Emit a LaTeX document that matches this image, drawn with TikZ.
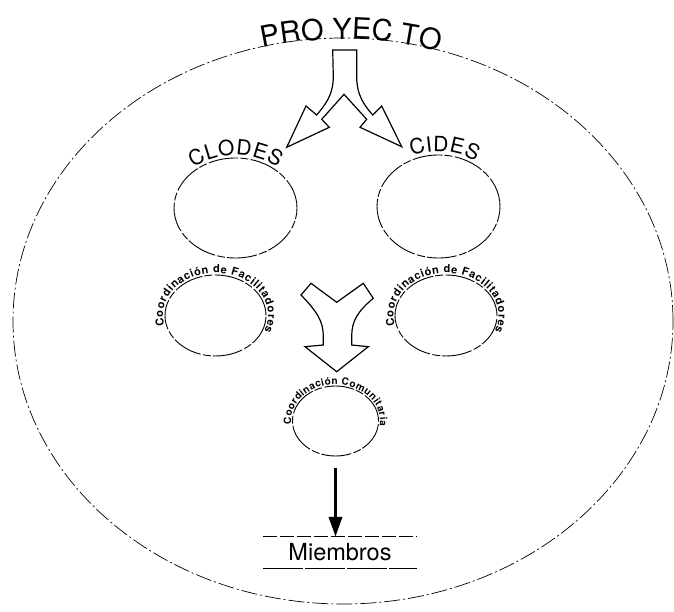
\documentclass[tikz,border=0pt]{standalone}
\usepackage{fontspec}
\setmainfont{TeX Gyre Heros}
\setsansfont{TeX Gyre Heros}
\usetikzlibrary{shapes.geometric,decorations.text,arrows.meta}

\begin{document}
\begin{tikzpicture}[x=1pt,y=1pt,
  bigring/.style={ellipse, draw, inner sep=0pt, line width=0.7pt, dash pattern=on 16pt off 3pt on 2pt off 3pt},
  ring/.style={ellipse, draw, inner sep=0pt, line width=0.9pt, dash pattern=on 30pt off 2.5pt on 8pt off 2pt},
  bigarrow/.style={draw, fill=white, line width=1.2pt, line join=miter},
  fittext/.style={decorate, decoration={text along path, text color=black, text align={fit to path}, raise=1.5pt, text={#1}}},
  centertext/.style={decorate, decoration={text along path, text color=black, text align=center, raise=3pt, text={#1}}},
]
\useasboundingbox (0,0) rectangle (674,611);
\fill[white] (0,0) rectangle (674,611);

% outer project ring
\node[bigring, minimum width=660pt, minimum height=566pt] (proy) at (343,290) {};
\path[decorate, decoration={text along path, text color=black, text align=center, raise=-1pt,
  text={|\fontsize{29}{31}\selectfont|PRO YEC TO}}]
  ([shift={(112:330pt and 283pt)}]proy.center) arc[start angle=112, end angle=65.2, x radius=330pt, y radius=283pt];

% circles
\node[ring, minimum width=123pt, minimum height=100pt] (clodes) at (235.5,403) {};
\node[ring, minimum width=123pt, minimum height=103pt] (cides) at (438.5,404.5) {};
\node[ring, minimum width=101pt, minimum height=81pt] (facl) at (215.5,295.5) {};
\node[ring, minimum width=102pt, minimum height=81pt] (facr) at (446,295.5) {};
\node[ring, minimum width=86pt, minimum height=70pt] (com) at (335.5,190) {};

% circle labels
\path[centertext={|\fontsize{21}{23}\selectfont|CLODES}]
  ([shift={(150:62pt and 50pt)}]clodes.center) arc[start angle=150, end angle=30, x radius=62pt, y radius=50pt];
\path[centertext={|\fontsize{21}{23}\selectfont|CIDES}]
  ([shift={(150:62pt and 52pt)}]cides.center) arc[start angle=150, end angle=18, x radius=62pt, y radius=52pt];
\path[fittext={|\bfseries\fontsize{11}{13}\selectfont|Coordinación de Facilitadores}]
  ([shift={(194:51pt and 41pt)}]facl.center) arc[start angle=194, end angle=-22, x radius=51pt, y radius=41pt];
\path[fittext={|\bfseries\fontsize{11}{13}\selectfont|Coordinación de Facilitadores}]
  ([shift={(194:51pt and 41pt)}]facr.center) arc[start angle=194, end angle=-22, x radius=51pt, y radius=41pt];
\path[fittext={|\bfseries\fontsize{10}{12}\selectfont|Coordinación Comunitaria}]
  ([shift={(186:43pt and 35pt)}]com.center) arc[start angle=186, end angle=-8, x radius=43pt, y radius=35pt];

% forking arrow
\draw[bigarrow] (332.7,561) -- (356.7,561) -- (356.7,534.3)
  .. controls (356.7,515) and (365,505) .. (372.7,496)
  -- (381.7,505) -- (401.7,464.3) -- (360,483.7) -- (366.7,491.7)
  -- (344,516.7)
  -- (321.7,491.7) -- (329.3,483.7) -- (286.7,463.7) -- (306,505) -- (316.7,496)
  .. controls (324,505) and (333.3,515) .. (333.3,534.3) -- cycle;

% merging arrow
\draw[bigarrow] (301,316) -- (311,327.7) -- (336.7,308.7) -- (363.3,327.7) -- (373.3,312.7)
  .. controls (358,300) and (351.7,290) .. (351.7,275) -- (351.7,266)
  -- (368.3,264.3) -- (336.7,239.3) -- (305,264.3) -- (323.3,266) -- (323.3,275)
  .. controls (323.3,290) and (316.5,300) .. cycle;

% members
\node[minimum width=154pt, minimum height=31pt, inner sep=0pt, font=\fontsize{23.5}{26}\selectfont] (miem) at (340,58.5) {Miembros};
\draw[line width=0.8pt, dash pattern=on 14pt off 3pt] (miem.north west) -- (miem.north east);
\draw[line width=0.9pt, dash pattern=on 40pt off 2pt] (miem.south west) -- (miem.south east);

\draw[line width=3.5pt, -{Triangle[length=20pt, width=13pt]}] ([yshift=-12pt]com.south) -- (com.south |- miem.north);
\end{tikzpicture}
\end{document}
